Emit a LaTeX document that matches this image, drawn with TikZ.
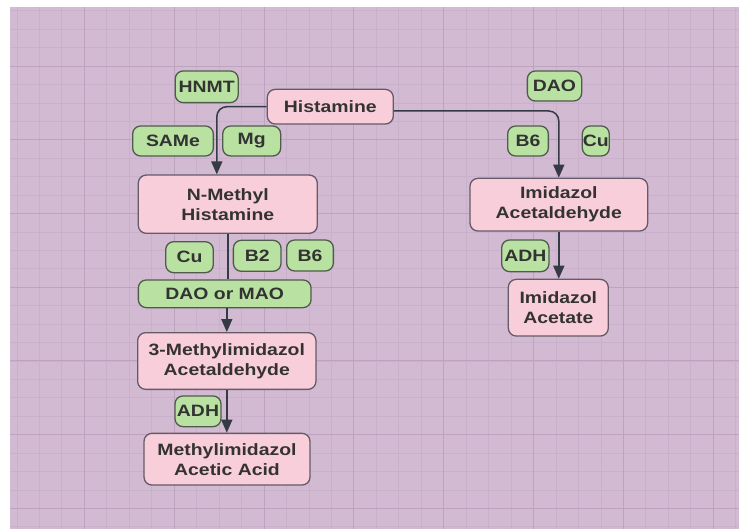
\documentclass[tikz,border=0pt]{standalone}
\usepackage{fontspec}
\newfontfamily\lblfont{Liberation Sans}[FakeStretch=1.18]
\usetikzlibrary{arrows.meta}
\definecolor{bgpurple}{HTML}{D2BAD3}
\definecolor{gridminor}{HTML}{C9B0CB}
\definecolor{gridmajor}{HTML}{BEA3C0}
\definecolor{chempink}{HTML}{F9CEDB}
\definecolor{chemedge}{HTML}{655A66}
\definecolor{cofgreen}{HTML}{B9E2A2}
\definecolor{cofedge}{HTML}{4F5C4B}
\definecolor{labeltext}{HTML}{333333}
\definecolor{flow}{HTML}{353A44}
\tikzset{
  boxbase/.style={rectangle, rounded corners=8bp, line width=1.3bp, align=center,
    inner sep=0pt, text=labeltext,
    font=\lblfont\bfseries\fontsize{16.5}{20}\selectfont},
  chem/.style={boxbase, fill=chempink, draw=chemedge},
  cof/.style={boxbase, fill=cofgreen, draw=cofedge},
  flowline/.style={draw=flow, line width=1.5bp},
  arr/.style={flowline, -{Triangle[width=11bp,length=13bp]}, rounded corners=10bp},
}
\begin{document}
\begin{tikzpicture}[x=1bp,y=-1bp]
\useasboundingbox (0,0) rectangle (739,529);
% canvas with grid
\fill[white] (0,0) rectangle (739,529);
\fill[bgpurple] (10,7) rectangle (739,529);
\begin{scope}
  \clip (10,7) rectangle (739,529);
  \foreach \i in {-3,...,29} {
    \pgfmathsetmacro{\gx}{84.3+22.46*\i}
    \draw[gridminor, line width=0.7bp] (\gx,7) -- (\gx,529);
  }
  \foreach \i in {-3,...,25} {
    \pgfmathsetmacro{\gy}{66+18.43*\i}
    \draw[gridminor, line width=0.7bp] (10,\gy) -- (739,\gy);
  }
  \foreach \i in {-1,...,7} {
    \pgfmathsetmacro{\gx}{84.3+89.84*\i}
    \draw[gridmajor, line width=0.9bp] (\gx,7) -- (\gx,529);
  }
  \foreach \i in {-1,...,6} {
    \pgfmathsetmacro{\gy}{66+73.72*\i}
    \draw[gridmajor, line width=0.9bp] (10,\gy) -- (739,\gy);
  }
\end{scope}

% compounds
\node[chem, minimum width=126bp, minimum height=34.7bp] (hist) at (330.3,106.7) {Histamine};
\node[chem, minimum width=179bp, minimum height=58.3bp] (nmh) at (227.8,204.2) {N-Methyl\\Histamine};
\node[chem, minimum width=178.3bp, minimum height=56.7bp] (mia) at (226.8,361) {3-Methylimidazol\\Acetaldehyde};
\node[chem, minimum width=166bp, minimum height=51.7bp] (maa) at (227,459.2) {Methylimidazol\\Acetic Acid};
\node[chem, minimum width=177.7bp, minimum height=52.7bp] (iald) at (558.8,204.7) {Imidazol\\Acetaldehyde};
\node[chem, minimum width=100bp, minimum height=56.7bp] (iac) at (558.3,307.7) {Imidazol\\Acetate};

% enzymes and cofactors
\node[cof, minimum width=63bp, minimum height=31.7bp] (hnmt) at (206.7,86.8) {HNMT};
\node[cof, minimum width=80.7bp, minimum height=30bp] (same) at (173,141) {SAMe};
\node[cof, minimum width=58bp, minimum height=30bp] (mg) at (251.7,141) {Mg};
\node[cof, minimum width=47.6bp, minimum height=31bp] (cul) at (189.5,257.2) {Cu};
\node[cof, minimum width=47.7bp, minimum height=31bp] (b2) at (257.2,255.8) {B2};
\node[cof, minimum width=46.7bp, minimum height=31bp] (b6l) at (310,255.5) {B6};
\node[cof, minimum width=172.7bp, minimum height=27.7bp] (daomao) at (224.7,293.8) {DAO or MAO};
\node[cof, minimum width=46bp, minimum height=30.7bp] (adhl) at (198,411.3) {ADH};
\node[cof, minimum width=54.3bp, minimum height=30bp] (dao) at (554.5,86) {DAO};
\node[cof, minimum width=40.7bp, minimum height=30bp] (b6r) at (528,141) {B6};
\node[cof, minimum width=27bp, minimum height=30bp] (cur) at (595.8,141) {Cu};
\node[cof, minimum width=47.3bp, minimum height=31.7bp] (adhr) at (525.3,255.8) {ADH};

% pathway connectors
\draw[arr] (hist.west) -| ([xshift=-11bp]nmh.north);
\draw[arr] ([yshift=-4.3bp]hist.east) -| (iald.north);
\draw[flowline] (nmh.south) -- (nmh.south |- daomao.north);
\draw[arr] (mia.north |- daomao.south) -- (mia.north);
\draw[arr] (mia.south) -- (mia.south |- maa.north);
\draw[arr] (iald.south) -- (iald.south |- iac.north);
\end{tikzpicture}
\end{document}
